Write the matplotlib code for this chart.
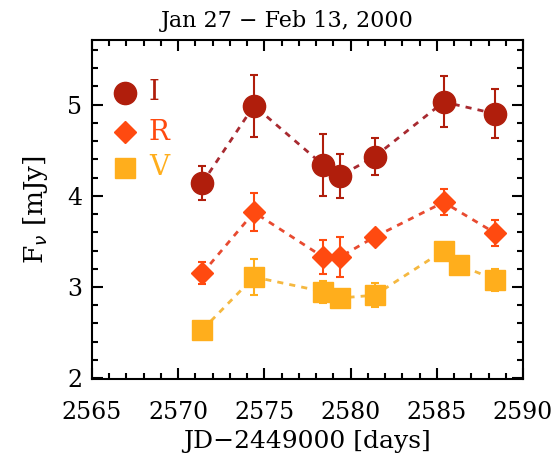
import matplotlib
matplotlib.use("Agg")
import matplotlib.pyplot as plt
from matplotlib.ticker import MultipleLocator

plt.rcParams['font.family'] = ['DejaVu Serif']

# Data
x_I = [2571.4, 2574.4, 2578.4, 2579.4, 2581.4, 2585.4, 2588.4]
y_I = [4.14, 4.99, 4.34, 4.22, 4.43, 5.03, 4.90]
e_I = [0.19, 0.34, 0.34, 0.24, 0.20, 0.28, 0.27]

x_R = [2571.4, 2574.4, 2578.4, 2579.4, 2581.4, 2585.4, 2588.4]
y_R = [3.15, 3.82, 3.33, 3.33, 3.55, 3.93, 3.59]
e_R = [0.12, 0.21, 0.19, 0.22, 0.05, 0.14, 0.14]

x_V = [2571.4, 2574.4, 2578.4, 2579.4, 2581.4, 2585.4, 2586.3, 2588.4]
y_V = [2.53, 3.11, 2.95, 2.88, 2.91, 3.40, 3.24, 3.08]
e_V = [0.04, 0.20, 0.12, 0.08, 0.13, 0.06, 0.04, 0.12]

c_I = '#B01E0C'
c_R = '#FF4A10'
c_V = '#FFAE1C'
l_I = '#A82A30'
l_R = '#E84A30'
l_V = '#F5B840'

fig = plt.figure(figsize=(5.57, 4.54), dpi=100)
ax = fig.add_axes([0.165, 0.165, 0.774, 0.747])

for x, y, e, c, lc, m, ms in [(x_I, y_I, e_I, c_I, l_I, 'o', 16),
                              (x_R, y_R, e_R, c_R, l_R, 'D', 11),
                              (x_V, y_V, e_V, c_V, l_V, 's', 14)]:
    ax.plot(x, y, linestyle=(0, (2.2, 2.2)), color=lc, lw=2, zorder=1)
    ax.errorbar(x, y, yerr=e, fmt='none', ecolor=c, elinewidth=1.5,
                capsize=3, capthick=1.5, zorder=2)
    ax.plot(x, y, linestyle='none', marker=m, ms=ms, color=c, mec=c, zorder=3)

# legend
leg = [('I', c_I, 'o', 16, 5.13), ('R', c_R, 'D', 11, 4.70), ('V', c_V, 's', 14, 4.31)]
for lab, c, m, ms, yy in leg:
    ax.plot([2566.9], [yy], marker=m, ms=ms, color=c, linestyle='none')
    ax.text(2568.3, yy, lab, color=c, fontsize=20, va='center', ha='left')

ax.set_xlim(2565, 2590)
ax.set_ylim(1.99, 5.71)
ax.xaxis.set_major_locator(MultipleLocator(5))
ax.xaxis.set_minor_locator(MultipleLocator(1))
ax.yaxis.set_major_locator(MultipleLocator(1))
ax.yaxis.set_minor_locator(MultipleLocator(0.2))
ax.tick_params(which='both', direction='in', top=True, right=True, width=1.5,
               labelsize=17)
ax.tick_params(which='major', length=8)
ax.tick_params(which='minor', length=4)
ax.tick_params(axis='x', which='major', pad=16)
ax.tick_params(axis='y', which='major', pad=7)
for s in ax.spines.values():
    s.set_linewidth(1.5)

fig.text(0.515, 0.953, 'Jan 27 \u2212 Feb 13, 2000', fontsize=16,
         ha='center', va='center')
ax.set_xlabel('JD\u22122449000 [days]', fontsize=18, labelpad=4)
ax.set_ylabel(r'F$_\nu$ [mJy]', fontsize=19, labelpad=12)

fig.savefig('out.png', dpi=100)
